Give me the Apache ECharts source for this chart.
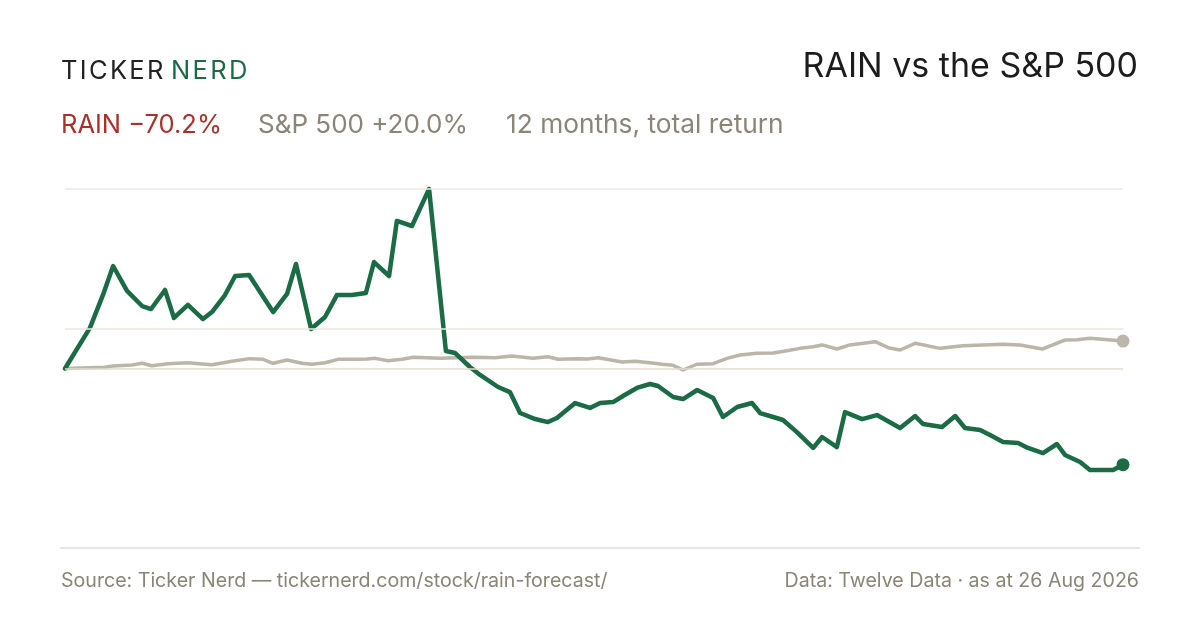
<!DOCTYPE html>
<html>
<head>
<meta charset="utf-8">
<script src="https://cdn.jsdelivr.net/npm/echarts@6/dist/echarts.min.js"></script>
<style>
  html, body { margin: 0; padding: 0; background: #ffffff; }
  #container { width: 1200px; height: 630px; }
</style>
</head>
<body>
<div id="container"></div>
<script>
// days since start of the 12-month window, and total return in %
var rainDays = [0, 8.6, 13.1, 16.6, 21.4, 26.6, 29.7, 34.5, 37.6, 42.4, 47.6, 50.7, 55.2, 58.7, 63.5, 71.8, 76.6, 79.7, 84.9, 89.7,
  93.8, 99.0, 103.8, 106.6, 111.8, 114.5, 119.7, 125.6, 131.4, 134.6, 139.7, 143.2, 149.4, 153.5, 157.0, 162.2, 166.6, 169.7, 176.0, 181.1,
  184.6, 189.1, 192.5, 197.3, 201.8, 204.6, 209.8, 213.2, 218.1, 223.6, 227.0, 231.9, 237.0, 239.8, 244.3, 247.7, 252.5, 258.1, 261.2, 266.3,
  269.1, 275.0, 280.1, 288.1, 293.3, 296.0, 302.6, 307.1, 310.5, 315.7, 319.8, 323.6, 328.8, 332.2, 337.4, 342.2, 345.0, 350.2, 353.6, 361.6, 365];
var rainReturn = [0, 29.6, 53.7, 74.8, 56.6, 45.6, 43.4, 57.3, 36.9, 46.4, 36.1, 41.2, 53.6, 67.5, 68.2, 41.2, 54.4, 76.3, 28.8, 37.6,
  53.6, 53.6, 55.1, 77.7, 67.5, 107.7, 104.0, 131.0, 12.8, 11.3, 1.1, -4.7, -13.5, -17.2, -32.5, -36.9, -39.1, -36.1, -25.2, -28.8,
  -25.2, -24.5, -20.1, -14.2, -11.3, -12.8, -20.8, -22.3, -15.7, -21.5, -35.4, -28.1, -25.2, -32.5, -35.4, -37.6, -46.4, -58.0, -50.0, -57.3,
  -31.8, -36.9, -34.0, -43.4, -34.7, -40.5, -42.7, -34.7, -43.4, -44.9, -49.3, -53.6, -54.4, -58.0, -61.7, -55.1, -63.1, -68.2, -74.1, -74.1, -70.2];

var spxDays = [0, 13.8, 16.6, 23.1, 26.6, 30.0, 35.5, 42.4, 47.3, 50.7, 57.6, 63.8, 68.3, 71.8, 76.6, 81.8, 85.2, 89.7, 94.2, 100.1,
  104.2, 107.0, 111.4, 116.3, 120.1, 129.4, 140.8, 148.4, 154.2, 161.5, 166.6, 170.1, 176.6, 180.4, 183.9, 192.2, 196.7, 201.8, 206.0, 209.8,
  213.2, 218.0, 223.6, 228.4, 232.9, 238.7, 244.3, 249.1, 253.6, 258.1, 261.2, 266.3, 270.8, 279.5, 284.0, 288.1, 293.3, 301.9, 309.8, 323.6,
  329.5, 337.1, 345.0, 349.2, 353.6, 365];
var spxReturn = [0, 0.9, 1.8, 2.6, 3.8, 2.0, 3.5, 4.2, 3.3, 2.8, 5.3, 7.2, 6.7, 3.8, 6.2, 3.8, 3.1, 4.2, 6.7, 6.7,
  6.9, 7.4, 5.7, 6.7, 8.2, 7.4, 8.2, 7.9, 9.1, 7.4, 8.6, 6.7, 7.2, 6.9, 7.9, 4.7, 5.3, 4.2, 3.1, 2.3,
  -1.1, 3.1, 3.5, 7.4, 9.9, 11.1, 11.3, 13.0, 14.7, 15.9, 17.2, 14.2, 17.2, 19.6, 15.2, 13.5, 18.4, 14.7, 16.6, 17.7,
  17.2, 14.2, 20.8, 21.0, 22.0, 20.0];

var gridLevels = [131, 28.8];
var baseLevel = 0;
var yLimit = 131;

var rainLabel = 'RAIN \u221270.2%';
var spxLabel = 'S&P 500 +20.0%';
var periodLabel = '12 months, total return';
var chartTitle = 'RAIN vs the S&P 500';
var sourceNote = 'Source: Ticker Nerd \u2014 tickernerd.com/stock/rain-forecast/';
var dataNote = 'Data: Twelve Data \u00b7 as at 26 Aug 2026';

var green = '#1b6b45';
var grey = '#bcb5a9';
var muted = '#8b8577';
var font = 'Inter';

function pairs(xs, ys) {
  return xs.map(function (d, i) { return [d, ys[i]]; });
}
function spaced(s) {
  return s.split('').join('\u200a');
}
function label(text, x, y, size, color, align) {
  return {
    type: 'text', x: x, y: y, silent: true,
    style: {
      text: text, fill: color, fontFamily: font, fontSize: size,
      fontWeight: 'normal', align: align || 'left', verticalAlign: 'middle'
    }
  };
}

var rainData = pairs(rainDays, rainReturn);
var spxData = pairs(spxDays, spxReturn);

var dom = document.getElementById('container');
var myChart = echarts.init(dom, null, { renderer: 'canvas' });

var option = {
  backgroundColor: '#FFFFFF',
  animation: false,
  textStyle: { fontFamily: font },
  graphic: [
    label(spaced('TICKER'), 61, 71, 25.5, '#222222'),
    label(spaced('NERD'), 171, 71, 25.5, green),
    label(chartTitle, 1138, 67, 34, '#1c1c1c', 'right'),
    label(rainLabel, 61, 125, 25.5, '#a8322a'),
    label(spxLabel, 258, 125, 26, muted),
    label(periodLabel, 506, 125, 26.3, muted),
    label(sourceNote, 61, 581, 19.6, muted),
    label(dataNote, 1139, 581, 19.6, muted, 'right'),
    {
      type: 'line', silent: true,
      shape: { x1: 60, y1: 548, x2: 1140, y2: 548 },
      style: { stroke: '#e1ddd3', lineWidth: 1.5 }
    }
  ],
  grid: { left: 65, right: 77, top: 189, bottom: 82 },
  xAxis: {
    type: 'value',
    min: 0,
    max: 365,
    show: false
  },
  yAxis: {
    type: 'value',
    min: -yLimit,
    max: yLimit,
    show: false,
    splitLine: { show: false }
  },
  series: [
    {
      name: 'S&P 500',
      type: 'line',
      data: spxData,
      showSymbol: false,
      clip: false,
      z: 2,
      lineStyle: { color: grey, width: 3.5, join: 'round', cap: 'round' },
      markLine: {
        silent: true,
        symbol: 'none',
        label: { show: false },
        data: gridLevels.map(function (v) {
          return { yAxis: v, lineStyle: { color: '#ece9e3', width: 1.5, type: 'solid' } };
        }).concat([{ yAxis: baseLevel, lineStyle: { color: '#e3dccd', width: 1.5, type: 'solid' } }])
      }
    },
    {
      name: 'RAIN',
      type: 'line',
      data: rainData,
      showSymbol: false,
      clip: false,
      z: 3,
      lineStyle: { color: green, width: 4.5, join: 'round', cap: 'round' }
    },
    {
      name: 'ends',
      type: 'scatter',
      clip: false,
      z: 4,
      symbolSize: 13,
      itemStyle: { opacity: 1 },
      data: [
        { value: spxData[spxData.length - 1], itemStyle: { color: grey, opacity: 1 } },
        { value: rainData[rainData.length - 1], itemStyle: { color: green, opacity: 1 } }
      ]
    }
  ]
};

if (option && typeof option === 'object') {
  myChart.setOption(option, true);
  window.onresize = function () {
    myChart.resize();
  };
}
</script>
</body>
</html>
